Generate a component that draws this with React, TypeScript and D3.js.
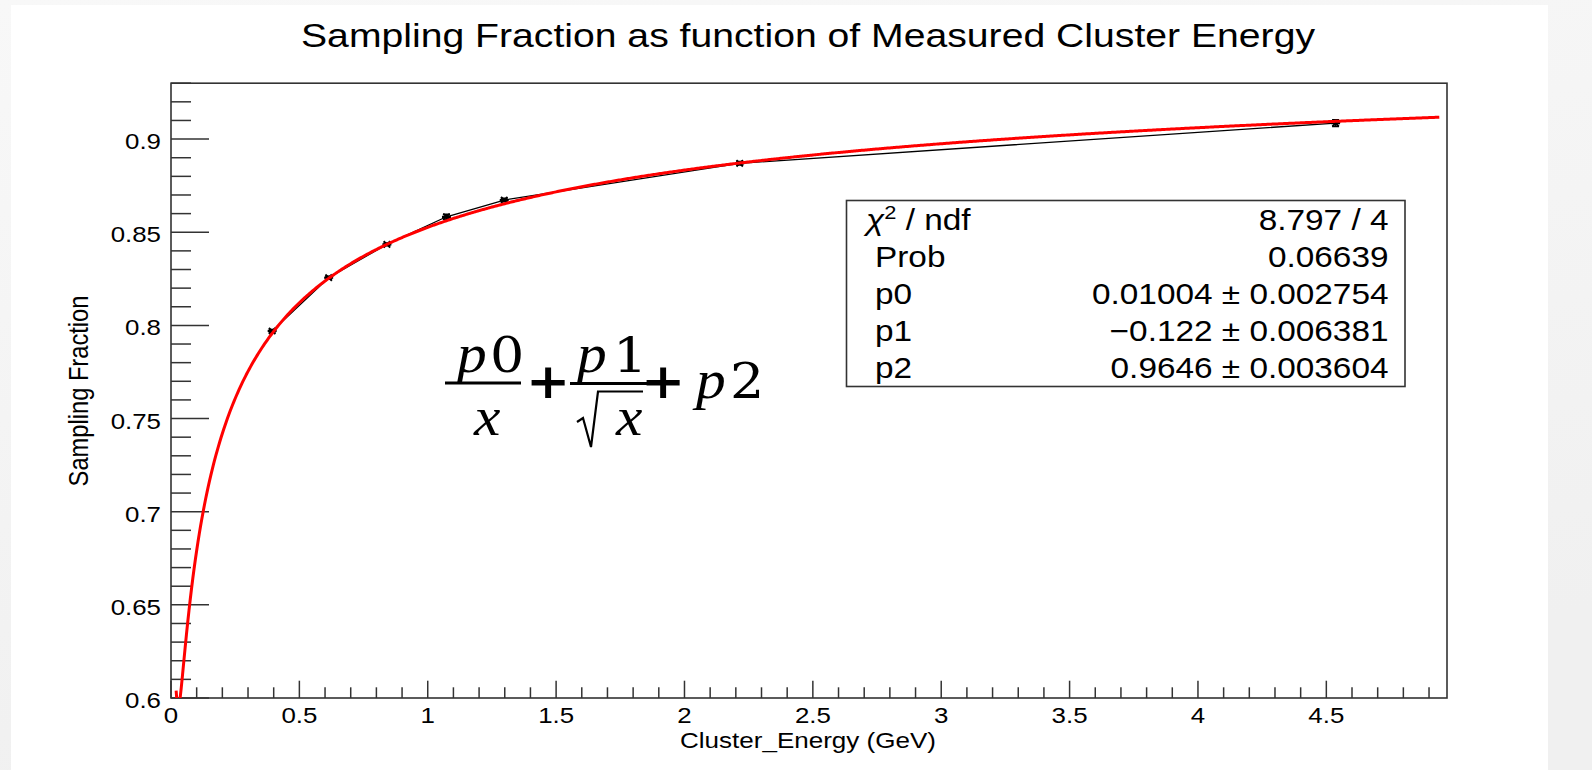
import React from "react";
import * as d3 from "d3";

// Measured cluster energy (GeV) and sampling fraction per bin
const energy = [0.394, 0.614, 0.841, 1.073, 1.298, 2.215, 4.536];
const fraction = [0.797, 0.8256, 0.8435, 0.8583, 0.8673, 0.887, 0.9086];
const fractionErr = [0.0008, 0.0008, 0.0007, 0.0013, 0.0009, 0.0009, 0.0018];

// Fit parameters of p0/x + p1/sqrt(x) + p2
const p0 = 0.01004;
const p1 = -0.122;
const p2 = 0.9646;
const fitRange = [0.02, 4.94];

const xMajorTicks = [0, 0.5, 1, 1.5, 2, 2.5, 3, 3.5, 4, 4.5];
const xTickLabels = ["0", "0.5", "1", "1.5", "2", "2.5", "3", "3.5", "4", "4.5"];
const yMajorTicks = [0.6, 0.65, 0.7, 0.75, 0.8, 0.85, 0.9];
const yTickLabels = ["0.6", "0.65", "0.7", "0.75", "0.8", "0.85", "0.9"];

const statNames = ["χ", "Prob", "p0", "p1", "p2"];
const statValues = [
  "8.797 / 4",
  "0.06639",
  "0.01004 ± 0.002754",
  "−0.122 ± 0.006381",
  "0.9646 ± 0.003604",
];

const W = 1592;
const H = 770;
const frame = { left: 171, right: 1447, top: 83.2, bottom: 698 };
const sans = "'Liberation Sans', Arial, Helvetica, sans-serif";
const serif = "'DejaVu Serif', 'Liberation Serif', serif";
const italicSerif = "'Liberation Serif', 'Times New Roman', serif";
const SX = 1.15;

// One glyph group of the formula, slightly widened like the rest of the text
function MathText(props: {
  x: number;
  y: number;
  italic?: boolean;
  bold?: boolean;
  size?: number;
  anchor?: "start" | "middle" | "end";
  children: React.ReactNode;
}) {
  const { x, y, italic, bold, size, anchor = "start", children } = props;
  return (
    <text
      transform={`translate(${x},${y}) scale(1.1,1)`}
      fontFamily={italic ? italicSerif : serif}
      fontSize={size ?? (italic ? 54 : 49)}
      fontStyle={italic ? "italic" : "normal"}
      fontWeight={bold ? "bold" : "normal"}
      textAnchor={anchor}
      fill="#000"
    >
      {children}
    </text>
  );
}

export default function App() {
  const x = d3.scaleLinear().domain([0, 4.97]).range([frame.left, frame.right]);
  const y = d3.scaleLinear().domain([0.6, 0.93]).range([frame.bottom, frame.top]);

  const xMinor = d3.range(0, 50).map((i) => i / 10).filter((v) => x(v) < frame.right);
  const yMinor = d3.range(60, 94).map((i) => i / 100);

  const fitFn = (e: number) => p0 / e + p1 / Math.sqrt(e) + p2;
  const fitX = d3.range(fitRange[0], fitRange[1] + 1e-9, 0.005);
  const fitLine = d3
    .line<number>()
    .x((e) => x(e))
    .y((e) => y(fitFn(e)))(fitX);

  const dataLine = d3
    .line<number>()
    .x((_, i) => x(energy[i]))
    .y((d) => y(d))(fraction);

  const box = { left: 846.5, right: 1405, top: 200.5, bottom: 386.5 };
  const rowH = (box.bottom - box.top) / statNames.length;

  return (
    <svg
      width={W}
      height={H}
      viewBox={`0 0 ${W} ${H}`}
      style={{ position: "absolute", left: 0, top: 0, display: "block" }}
    >
      <defs>
        <linearGradient id="bgGrad" x1="0" y1="0" x2="0.3" y2="1">
          <stop offset="0" stopColor="#f8f8f8" />
          <stop offset="1" stopColor="#f0f0f0" />
        </linearGradient>
        <clipPath id="frameClip">
          <rect
            x={frame.left}
            y={frame.top}
            width={frame.right - frame.left}
            height={frame.bottom - frame.top}
          />
        </clipPath>
      </defs>
      <rect x={0} y={0} width={W} height={H} fill="url(#bgGrad)" />
      <rect x={11} y={5} width={1537} height={H - 5} fill="#ffffff" />

      {/* Title */}
      <text
        x={808}
        y={47}
        fontFamily={sans}
        fontSize={34}
        textAnchor="middle"
        textLength={1014}
        lengthAdjust="spacingAndGlyphs"
        fill="#000"
      >
        Sampling Fraction as function of Measured Cluster Energy
      </text>

      {/* Frame */}
      <rect
        x={frame.left}
        y={frame.top}
        width={frame.right - frame.left}
        height={frame.bottom - frame.top}
        fill="none"
        stroke="#333"
        strokeWidth={1.6}
      />

      {/* Y ticks */}
      {yMinor.map((v) => {
        const isMajor = yMajorTicks.some((m) => Math.abs(m - v) < 1e-6);
        return (
          <line
            key={"ym" + v}
            x1={frame.left}
            x2={frame.left + (isMajor ? 38 : 20)}
            y1={y(v)}
            y2={y(v)}
            stroke="#333"
            strokeWidth={1.5}
          />
        );
      })}
      {yMajorTicks.map((v, i) => (
        <text
          key={"yl" + v}
          transform={`translate(161,${y(v) + 10}) scale(${SX},1)`}
          fontFamily={sans}
          fontSize={22.5}
          textAnchor="end"
          fill="#000"
        >
          {yTickLabels[i]}
        </text>
      ))}

      {/* X ticks */}
      {xMinor.map((v) => {
        const isMajor = xMajorTicks.some((m) => Math.abs(m - v) < 1e-6);
        return (
          <line
            key={"xm" + v}
            x1={x(v)}
            x2={x(v)}
            y1={frame.bottom}
            y2={frame.bottom - (isMajor ? 17.3 : 10.7)}
            stroke="#333"
            strokeWidth={1.5}
          />
        );
      })}
      {xMajorTicks.map((v, i) => (
        <text
          key={"xl" + v}
          transform={`translate(${x(v)},722.7) scale(${SX},1)`}
          fontFamily={sans}
          fontSize={22.5}
          textAnchor="middle"
          fill="#000"
        >
          {xTickLabels[i]}
        </text>
      ))}

      {/* Axis titles */}
      <text
        x={808}
        y={748.3}
        fontFamily={sans}
        fontSize={22.8}
        textAnchor="middle"
        textLength={256}
        lengthAdjust="spacingAndGlyphs"
        fill="#000"
      >
        Cluster_Energy (GeV)
      </text>
      <text
        transform={`translate(87.5,391) scale(${SX},1) rotate(-90)`}
        fontFamily={sans}
        fontSize={23.7}
        textAnchor="middle"
        fill="#000"
      >
        Sampling Fraction
      </text>

      {/* Data: connecting line, error bars, markers */}
      <g clipPath="url(#frameClip)">
        <path d={dataLine || ""} fill="none" stroke="#000" strokeWidth={1.3} />
        {energy.map((e, i) => {
          const cx = x(e);
          const cy = y(fraction[i]);
          const yt = y(fraction[i] + fractionErr[i]);
          const yb = y(fraction[i] - fractionErr[i]);
          return (
            <g key={"pt" + i} stroke="#000">
              <line x1={cx} x2={cx} y1={yt} y2={yb} strokeWidth={1.6} />
              <line x1={cx - 3.5} x2={cx + 3.5} y1={yt} y2={yt} strokeWidth={1.6} />
              <line x1={cx - 3.5} x2={cx + 3.5} y1={yb} y2={yb} strokeWidth={1.6} />
              <line x1={cx - 4.5} x2={cx + 4.5} y1={cy} y2={cy} strokeWidth={2.2} />
              <line x1={cx - 3.2} x2={cx + 3.2} y1={cy - 3.2} y2={cy + 3.2} strokeWidth={1.8} />
              <line x1={cx - 3.2} x2={cx + 3.2} y1={cy + 3.2} y2={cy - 3.2} strokeWidth={1.8} />
            </g>
          );
        })}
        <path d={fitLine || ""} fill="none" stroke="#ff0000" strokeWidth={3} strokeLinejoin="round" />
      </g>

      {/* Fit statistics box */}
      <rect
        x={box.left}
        y={box.top}
        width={box.right - box.left}
        height={box.bottom - box.top}
        fill="#fff"
        stroke="#333"
        strokeWidth={1.6}
      />
      {statNames.map((name, i) => {
        const base = box.top + rowH * (i + 0.5) + 10.5;
        return (
          <g key={"st" + i}>
            <text
              transform={`translate(${i === 0 ? 866 : 875},${base}) scale(${SX},1)`}
              fontFamily={sans}
              fontSize={29}
              fill="#000"
            >
              {i === 0 ? (
                <>
                  <tspan fontStyle="italic">{name}</tspan>
                  <tspan fontSize={19} dy={-11}>
                    2
                  </tspan>
                  <tspan dy={11}> / ndf</tspan>
                </>
              ) : (
                name
              )}
            </text>
            <text
              transform={`translate(1388.5,${base}) scale(${SX},1)`}
              fontFamily={sans}
              fontSize={29}
              textAnchor="end"
              fill="#000"
            >
              {statValues[i]}
            </text>
          </g>
        );
      })}

      {/* Fit function formula */}
      <g>
        <MathText x={457} y={372} italic>p</MathText>
        <MathText x={490} y={372}>0</MathText>
        <line x1={445} x2={521} y1={383} y2={383} stroke="#000" strokeWidth={3} />
        <MathText x={474} y={435} italic>x</MathText>

        <MathText x={548} y={398} size={48} bold anchor="middle">+</MathText>

        <MathText x={577} y={372} italic>p</MathText>
        <MathText x={613} y={372}>1</MathText>
        <line x1={570} x2={647} y1={383.5} y2={383.5} stroke="#000" strokeWidth={3} />
        <path
          d="M577,422 L583,418 L591,447 L598,391.5 L643,391.5"
          fill="none"
          stroke="#000"
          strokeWidth={2.2}
          strokeLinejoin="miter"
        />
        <MathText x={616} y={435} italic>x</MathText>

        <MathText x={663} y={398} size={48} bold anchor="middle">+</MathText>

        <MathText x={696} y={398} italic>p</MathText>
        <MathText x={730} y={398}>2</MathText>
      </g>
    </svg>
  );
}
